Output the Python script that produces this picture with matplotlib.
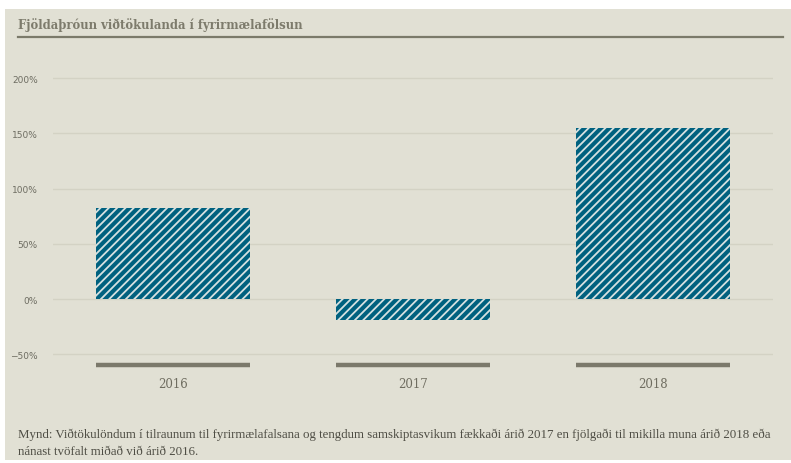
import matplotlib
matplotlib.use("Agg")
import matplotlib.pyplot as plt
from matplotlib.patches import Rectangle
from matplotlib.lines import Line2D

years = ["2016", "2017", "2018"]
change_pct = [82, -19, 155]
yticks = [-50, 0, 50, 100, 150, 200]
title = "Fjöldaþróun viðtökulanda í fyrirmælafölsun"
caption = ("Mynd: Viðtökulöndum í tilraunum til fyrirmælafalsana og tengdum samskiptasvikum "
           "fækkaði árið 2017 en fjölgaði til mikilla muna árið 2018 eða\n"
           "nánast tvöfalt miðað við árið 2016.")

W, H = 791, 464
bg = "#e1e0d4"
blue = "#00617f"
grey = "#7b7a6a"

plt.rcParams["hatch.linewidth"] = 1.3

fig = plt.figure(figsize=(W / 100, H / 100), dpi=100, facecolor="white")
fig.patches.append(Rectangle((5 / W, 3 / H), 1 - 5 / W, (H - 13) / H,
                             transform=fig.transFigure, facecolor=bg,
                             edgecolor="none", zorder=-5))
fig.lines.append(Line2D([18 / W, 783 / W], [1 - 38 / H, 1 - 38 / H],
                        transform=fig.transFigure, color=grey, lw=1.6))
fig.text(18 / W, 1 - 25 / H, title, fontsize=8.4, fontweight="bold",
         family="DejaVu Serif", color="#7d7b6c", va="center")

# axes in pixel coords: x 53..773, y 60..370
ax = fig.add_axes([53 / W, 1 - 370 / H, 720 / W, 310 / H])
ax.set_facecolor("none")
ax.set_xlim(-0.5, 2.5)
y_per_px = 50 / 55.2
ax.set_ylim(-(370 - 300) * y_per_px, (300 - 60) * y_per_px)

x = range(len(years))
ax.bar(x, change_pct, width=0.645, color=blue, edgecolor="#d6e1e1",
       linewidth=0, hatch="////", zorder=2)

ax.set_yticks(yticks)
ax.set_yticklabels([f"{v}%".replace("-", "\u2212") for v in yticks])
ax.tick_params(axis="y", length=0, pad=11, labelsize=6.5, labelcolor="#6e6d62")
ax.grid(axis="y", color="#d3d2c4", lw=1, zorder=0)
for s in ax.spines.values():
    s.set_visible(False)

# grey baseline under each bar
for i in x:
    ax.plot([i - 0.3225, i + 0.3225], [-59.5, -59.5], color="#7b796b",
            lw=3.2, solid_capstyle="butt", zorder=3, clip_on=False)
ax.set_xticks(list(x))
ax.set_xticklabels(years, family="DejaVu Serif", fontsize=8.5, color="#6f6d60")
ax.tick_params(axis="x", length=0, pad=6)

fig.text(18 / W, 1 - 429 / H, caption, fontsize=9.3, family="Liberation Serif",
         color="#4e4d44", va="top", linespacing=1.5)

fig.savefig("out.png", dpi=100, facecolor="white")
